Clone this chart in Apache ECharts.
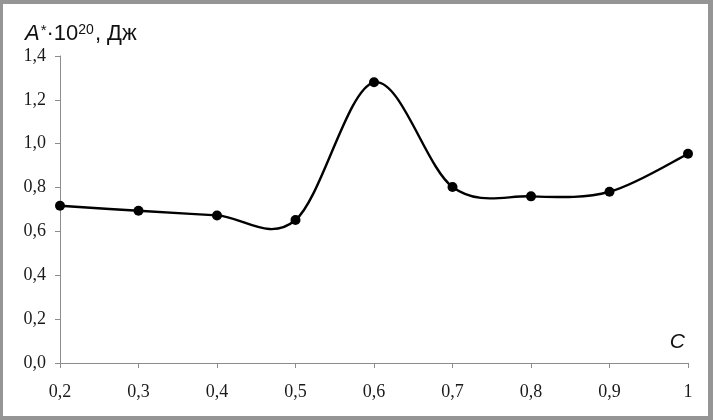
<!DOCTYPE html>
<html>
<head>
<meta charset="utf-8">
<script src="https://cdn.jsdelivr.net/npm/echarts@6/dist/echarts.min.js"></script>
<style>
  html, body { margin: 0; padding: 0; background: #fff; }
  #wrap { position: relative; width: 713px; height: 420px; }
  #chart { position: absolute; left: 0; top: 0; width: 713px; height: 420px; }
  #frame { position: absolute; left: 0; top: 0; width: 713px; height: 420px; box-sizing: border-box;
           border-style: solid; border-color: #959595; border-width: 4px 5px 4px 3px; pointer-events: none; }
</style>
</head>
<body>
<div id="wrap">
  <div id="chart"></div>
  <div id="frame"></div>
</div>
<script>
// концентрация C
const categorias = ['0,2', '0,3', '0,4', '0,5', '0,6', '0,7', '0,8', '0,9', '1'];
// A*·10^20, Дж
const valores = [0.717, 0.694, 0.673, 0.652, 1.280, 0.803, 0.760, 0.781, 0.954];
const yMin = 0, yMax = 1.4, yPaso = 0.2;

const grafico = echarts.init(document.getElementById('chart'));

// curva suavizada tipo Excel (Catmull-Rom -> Bezier), puntos sacados de los ejes
function curvaSuave(params, api) {
  if (params.dataIndex !== 0) return null;
  const pts = valores.map((v, i) => api.coord([i, v]));
  const n = pts.length;
  let d = 'M' + pts[0][0] + ',' + pts[0][1];
  for (let i = 0; i < n - 1; i++) {
    const p0 = pts[Math.max(i - 1, 0)];
    const p1 = pts[i];
    const p2 = pts[i + 1];
    const p3 = pts[Math.min(i + 2, n - 1)];
    const c1x = p1[0] + (p2[0] - p0[0]) / 6, c1y = p1[1] + (p2[1] - p0[1]) / 6;
    const c2x = p2[0] - (p3[0] - p1[0]) / 6, c2y = p2[1] - (p3[1] - p1[1]) / 6;
    d += ' C' + c1x + ',' + c1y + ' ' + c2x + ',' + c2y + ' ' + p2[0] + ',' + p2[1];
  }
  return {
    type: 'path',
    shape: { pathData: d },
    style: { fill: 'none', stroke: '#000', lineWidth: 2.4 }
  };
}

const opciones = {
  animation: false,
  backgroundColor: '#fff',
  title: {
    left: 20,
    top: 18,
    text: '{a|A}{s|*}{n|·10}{e|20}{n|, Дж}',
    textStyle: {
      rich: {
        a: { fontFamily: 'Liberation Sans', fontStyle: 'italic', fontWeight: 'normal', fontSize: 22, color: '#111' },
        s: { fontFamily: 'Liberation Sans', fontWeight: 'normal', fontSize: 15, color: '#111', verticalAlign: 'top', padding: [0, 0, 7, 1] },
        n: { fontFamily: 'Liberation Sans', fontWeight: 'normal', fontSize: 22, color: '#111' },
        e: { fontFamily: 'Liberation Sans', fontWeight: 'normal', fontSize: 14, color: '#111', verticalAlign: 'top', padding: [0, 1, 8, 0] }
      }
    }
  },
  graphic: [{
    type: 'text',
    right: 28,
    top: 332,
    style: { text: 'C', fontFamily: 'Liberation Sans', fontStyle: 'italic', fontSize: 21, fill: '#111' }
  }],
  grid: { left: 60, right: 25, top: 56, bottom: 57, containLabel: false },
  xAxis: {
    type: 'category',
    data: categorias,
    boundaryGap: false,
    axisLine: { lineStyle: { color: '#8c8c8c', width: 1 } },
    axisTick: { alignWithLabel: true, length: 5, lineStyle: { color: '#8c8c8c' } },
    axisLabel: { fontFamily: 'Liberation Serif', fontSize: 18, color: '#1a1a1a', margin: 20 },
    splitLine: { show: false }
  },
  yAxis: {
    type: 'value',
    min: yMin,
    max: yMax,
    interval: yPaso,
    axisLine: { show: true, lineStyle: { color: '#8c8c8c', width: 1 } },
    axisTick: { show: true, length: 5, lineStyle: { color: '#8c8c8c' } },
    axisLabel: {
      fontFamily: 'Liberation Serif', fontSize: 18, color: '#1a1a1a', margin: 14,
      formatter: v => v.toFixed(1).replace('.', ',')
    },
    splitLine: { show: false }
  },
  series: [{
    type: 'custom',
    data: valores.map((v, i) => [i, v]),
    renderItem: curvaSuave,
    silent: true,
    z: 2
  }, {
    type: 'scatter',
    data: valores.map((v, i) => [i, v]),
    symbol: 'circle',
    symbolSize: 10,
    itemStyle: { color: '#000', opacity: 1 },
    z: 3
  }]
};

grafico.setOption(opciones);
</script>
</body>
</html>
